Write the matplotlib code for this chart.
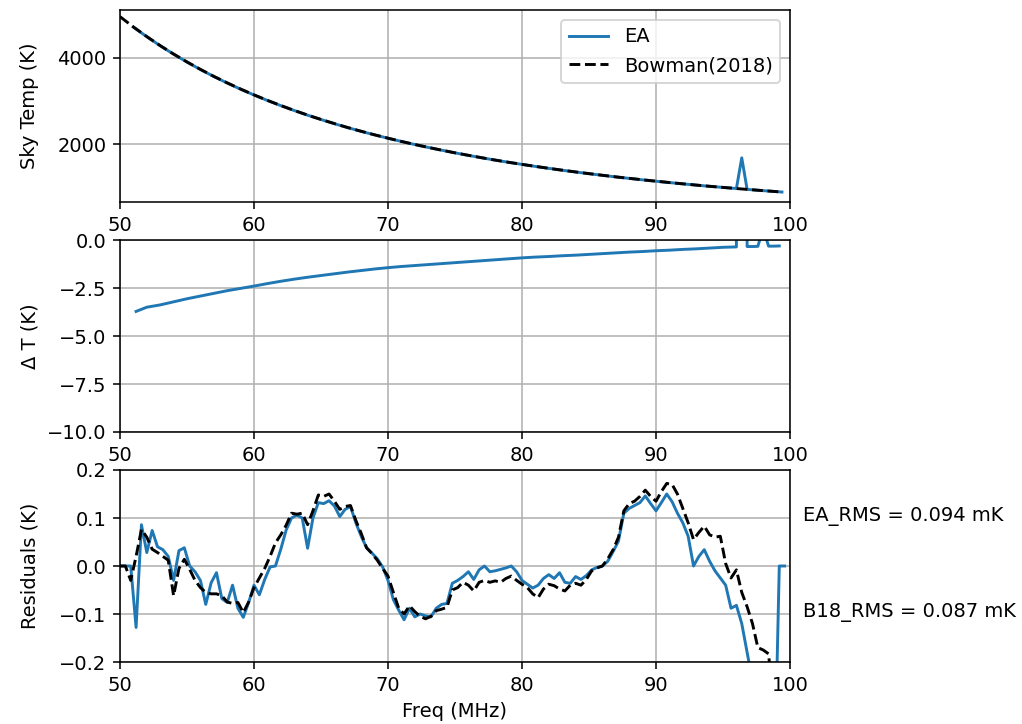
import numpy as np
import matplotlib
matplotlib.use("Agg")
import matplotlib.pyplot as plt

# ---- sky temperature (K) ----
freq_sky = [50, 51, 52, 53, 54, 55, 56, 57, 58, 59,
            60, 61, 62, 63, 64, 65, 66, 67, 68, 69,
            70, 71, 72, 73, 74, 75, 76, 77, 78, 79,
            80, 81, 82, 83, 84, 85, 86, 87, 88, 89,
            90, 91, 92, 93, 94, 95, 96, 96.4, 96.8, 98, 99, 99.4]
sky_b18 = [4950, 4711, 4488, 4279, 4084, 3901, 3729, 3567, 3416, 3273,
           3138, 3011, 2891, 2778, 2670, 2569, 2473, 2381, 2295, 2213,
           2135, 2060, 1989, 1922, 1858, 1796, 1738, 1682, 1628, 1577,
           1529, 1482, 1437, 1394, 1353, 1314, 1276, 1239, 1205, 1171,
           1139, 1108, 1078, 1049, 1021, 995, 969, 959, 949, 920, 897, 888]
sky_ea = [np.nan, 4707, 4485, 4276, 4081, 3898, 3726, 3564, 3413, 3270,
          3136, 3009, 2889, 2776, 2668, 2567, 2471, 2379, 2293, 2211,
          2134, 2059, 1988, 1921, 1857, 1795, 1737, 1681, 1627, 1576,
          1528, 1481, 1436, 1393, 1352, 1313, 1275, 1238, 1204, 1170,
          1138, 1107, 1077, 1048, 1020, 995, 969, 1680, 949, 920, 897, 888]

# ---- EA minus Bowman (K) ----
freq_dt = [51.2, 52, 53, 54, 55, 56, 57, 58, 59,
           60, 61, 62, 63, 64, 65, 66, 67, 68, 69,
           70, 71, 72, 73, 74, 75, 76, 77, 78, 79,
           80, 81, 82, 83, 84, 85, 86, 87, 88, 89,
           90, 91, 92, 93, 94, 95, 96,
           96.4, 96.8, 97.2, 97.6, 98.0, 98.4, 98.8, 99.2]
delta_t = [-3.72, -3.50, -3.38, -3.22, -3.06, -2.92, -2.78, -2.64, -2.52,
           -2.40, -2.27, -2.15, -2.04, -1.94, -1.85, -1.76, -1.67, -1.59, -1.51,
           -1.44, -1.38, -1.33, -1.28, -1.23, -1.18, -1.13, -1.08, -1.03, -0.98,
           -0.93, -0.89, -0.86, -0.82, -0.79, -0.75, -0.71, -0.67, -0.63, -0.60,
           -0.56, -0.53, -0.49, -0.46, -0.42, -0.38, -0.36,
           721.0, -0.34, -0.34, -0.33, 0.60, -0.32, -0.32, -0.31]

# ---- fit residuals (K) ----
freq_res = [50.0, 50.4, 50.8, 51.2, 51.6,
            52.0, 52.4, 52.8, 53.2, 53.6,
            54.0, 54.4, 54.8, 55.2, 55.6,
            56.0, 56.4, 56.8, 57.2, 57.6,
            58.0, 58.4, 58.8, 59.2, 59.6,
            60.0, 60.4, 60.8, 61.2, 61.6,
            62.0, 62.4, 62.8, 63.2, 63.6,
            64.0, 64.4, 64.8, 65.2, 65.6,
            66.0, 66.4, 66.8, 67.2, 67.6,
            68.0, 68.4, 68.8, 69.2, 69.6,
            70.0, 70.4, 70.8, 71.2, 71.6,
            72.0, 72.4, 72.8, 73.2, 73.6,
            74.0, 74.4, 74.8, 75.2, 75.6,
            76.0, 76.4, 76.8, 77.2, 77.6,
            78.0, 78.4, 78.8, 79.2, 79.6,
            80.0, 80.4, 80.8, 81.2, 81.6,
            82.0, 82.4, 82.8, 83.2, 83.6,
            84.0, 84.4, 84.8, 85.2, 85.6,
            86.0, 86.4, 86.8, 87.2, 87.6,
            88.0, 88.4, 88.8, 89.2, 89.6,
            90.0, 90.4, 90.8, 91.2, 91.6,
            92.0, 92.4, 92.8, 93.2, 93.6,
            94.0, 94.4, 94.8, 95.2, 95.6,
            96.0, 96.4, 96.8, 97.2, 97.6,
            98.0, 98.4, 98.8, 99.2, 99.6]
res_ea = [0.000, 0.000, 0.000, -0.128, 0.086,
          0.028, 0.074, 0.040, 0.034, 0.020,
          -0.030, 0.032, 0.038, 0.000, -0.012,
          -0.030, -0.080, -0.035, -0.014, -0.068,
          -0.076, -0.040, -0.088, -0.107, -0.076,
          -0.040, -0.060, -0.028, -0.002, 0.000,
          0.035, 0.075, 0.100, 0.106, 0.100,
          0.037, 0.100, 0.132, 0.130, 0.136,
          0.125, 0.103, 0.118, 0.124, 0.090,
          0.062, 0.038, 0.027, 0.015, -0.002,
          -0.030, -0.070, -0.092, -0.112, -0.088,
          -0.106, -0.100, -0.104, -0.106, -0.088,
          -0.080, -0.078, -0.036, -0.030, -0.022,
          -0.012, -0.028, -0.008, 0.000, -0.012,
          -0.010, -0.007, -0.004, 0.000, -0.012,
          -0.030, -0.038, -0.046, -0.040, -0.026,
          -0.018, -0.026, -0.014, -0.034, -0.036,
          -0.022, -0.028, -0.020, -0.008, -0.003,
          0.000, 0.010, 0.030, 0.052, 0.110,
          0.120, 0.126, 0.132, 0.146, 0.130,
          0.115, 0.132, 0.150, 0.134, 0.110,
          0.090, 0.062, 0.000, 0.020, 0.034,
          0.010, -0.010, -0.025, -0.040, -0.088,
          -0.082, -0.120, -0.180, -0.240, -0.300,
          -0.360, -0.420, -0.500, 0.000, 0.000]
res_b18 = [0.000, 0.000, -0.030, 0.020, 0.076,
           0.060, 0.035, 0.028, 0.020, 0.012,
           -0.062, -0.005, 0.014, -0.007, -0.030,
           -0.045, -0.055, -0.058, -0.058, -0.062,
           -0.075, -0.078, -0.076, -0.097, -0.075,
           -0.045, -0.025, -0.005, 0.020, 0.048,
           0.065, 0.085, 0.110, 0.108, 0.110,
           0.086, 0.115, 0.148, 0.145, 0.150,
           0.135, 0.118, 0.124, 0.126, 0.095,
           0.068, 0.038, 0.026, 0.012, -0.005,
           -0.021, -0.055, -0.088, -0.100, -0.083,
           -0.095, -0.105, -0.110, -0.105, -0.093,
           -0.090, -0.086, -0.050, -0.045, -0.034,
           -0.040, -0.052, -0.034, -0.030, -0.034,
           -0.031, -0.034, -0.026, -0.021, -0.030,
           -0.038, -0.045, -0.058, -0.066, -0.048,
           -0.038, -0.041, -0.048, -0.052, -0.040,
           -0.036, -0.040, -0.028, -0.010, -0.004,
           0.000, 0.015, 0.034, 0.060, 0.115,
           0.130, 0.135, 0.145, 0.158, 0.145,
           0.135, 0.155, 0.172, 0.170, 0.150,
           0.120, 0.090, 0.055, 0.070, 0.083,
           0.065, 0.060, 0.062, 0.005, -0.025,
           -0.008, -0.055, -0.085, -0.120, -0.170,
           -0.175, -0.183, -0.300, -0.350, -0.400]

rms_ea = 0.094
rms_b18 = 0.087

DPI = 140
fig = plt.figure(figsize=(1022 / DPI, 724 / DPI), dpi=DPI)
ax1, ax2, ax3 = fig.subplots(3, 1)
fig.subplots_adjust(left=120 / 1022, right=790 / 1022,
                    top=1 - 10 / 724, bottom=1 - 662 / 724, hspace=38 / 192)

# sky temperature
ax1.plot(freq_sky, sky_ea, color="C0", label="EA")
ax1.plot(freq_sky, sky_b18, "k--", label="Bowman(2018)")
ax1.set_xlim(50, 100)
ax1.set_ylim(657, 5104)
ax1.set_yticks([2000, 4000])
ax1.set_ylabel("Sky Temp (K)")
ax1.legend(loc="upper right")
ax1.grid(True)

# difference
ax2.plot(freq_dt, delta_t, color="C0")
ax2.set_xlim(50, 100)
ax2.set_ylim(-10, 0)
ax2.set_ylabel("Δ T (K)")
ax2.grid(True)

# residuals
ax3.plot(freq_res, res_ea, color="C0")
ax3.plot(freq_res, res_b18, "k--")
ax3.set_xlim(50, 100)
ax3.set_ylim(-0.2, 0.2)
ax3.set_xlabel("Freq (MHz)")
ax3.set_ylabel("Residuals (K)")
ax3.grid(True)
ax3.text(101, 0.094, f"EA_RMS = {rms_ea:.3f} mK")
ax3.text(101, -0.106, f"B18_RMS = {rms_b18:.3f} mK")

for ax in (ax1, ax2, ax3):
    ax.set_xticks([50, 60, 70, 80, 90, 100])

fig.align_ylabels([ax1, ax2, ax3])
fig.savefig("out.png", dpi=DPI)
